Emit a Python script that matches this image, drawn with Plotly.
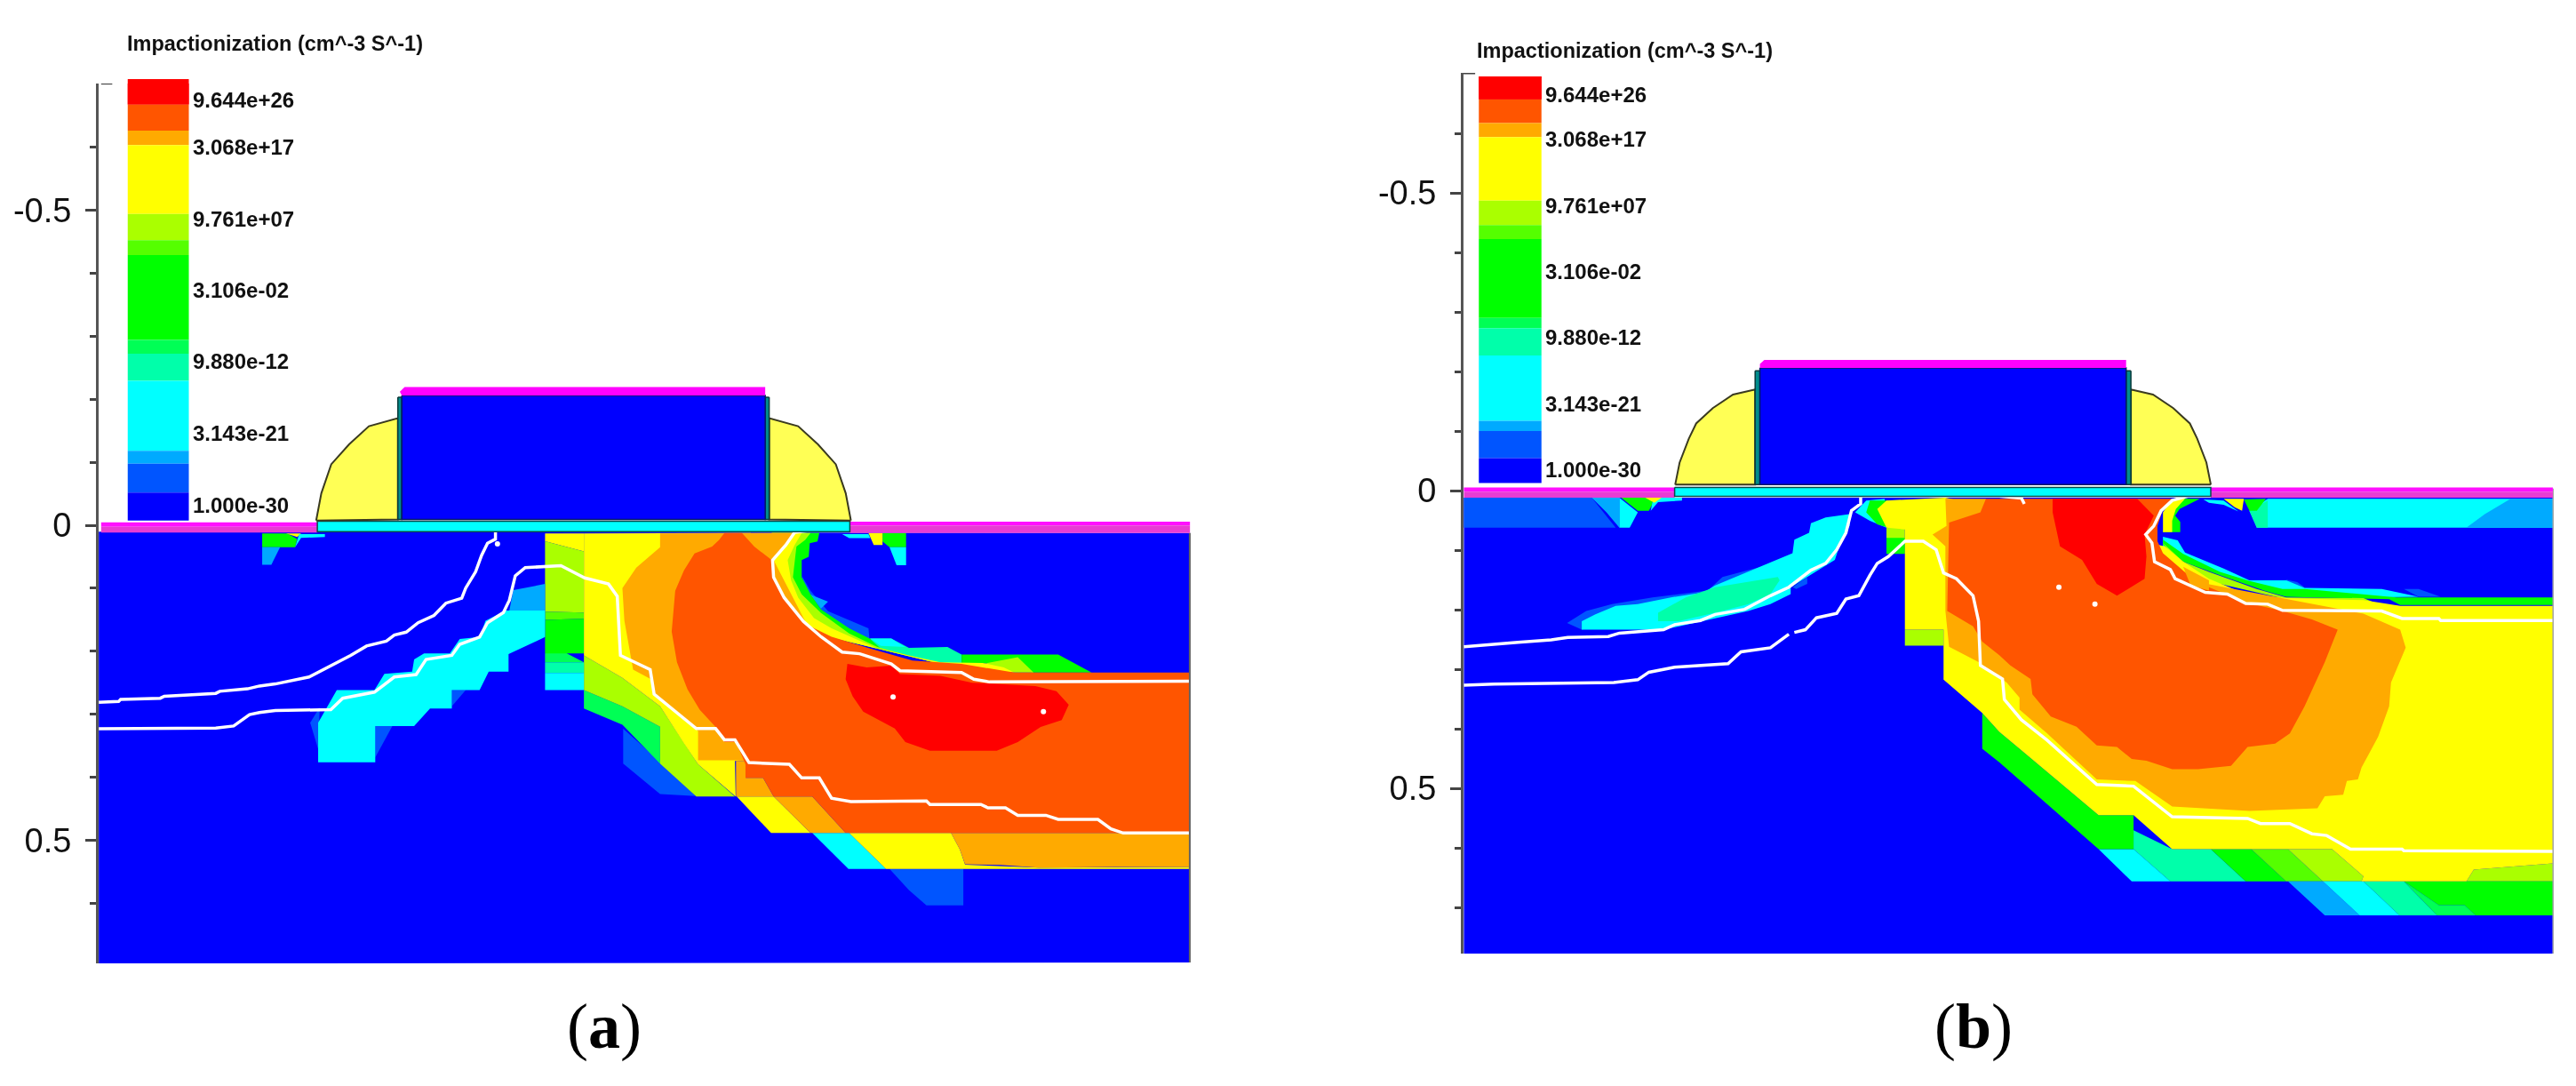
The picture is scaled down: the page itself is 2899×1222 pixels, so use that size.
import plotly.graph_objects as go

# ---------- colour levels of the contour scale (top to bottom) ----------
LEVELS = ["#ff0000", "#ff5500", "#ffaa00", "#ffff00", "#aaff00", "#55ff00", "#00ff00",
          "#00ff55", "#00ffaa", "#00ffff", "#00aaff", "#0055ff", "#0000ff"]
RED, ORED, ORANGE, YELLOW, YG, LG, GREEN, SG, TEAL, CYAN, SKY, MID, BLUE = LEVELS
LEGEND_TITLE = "Impactionization (cm^-3 S^-1)"
LEGEND_LABELS = ["9.644e+26", "3.068e+17", "9.761e+07", "3.106e-02", "9.880e-12", "3.143e-21", "1.000e-30"]
MAJOR_TICKS = [-0.5, 0, 0.5]
MAJOR_TEXT = ["-0.5", "0", "0.5"]
A_MINOR = [-0.6, -0.4, -0.3, -0.2, -0.1, 0.1, 0.2, 0.3, 0.4, 0.6]
B_MINOR = [-0.6, -0.4, -0.3, -0.2, -0.1, 0.1, 0.2, 0.3, 0.4, 0.6, 0.7]

# ---------- digitiser frames: x0, y0, sx, sy, left, zero, units-per-um ----------
FRAMES = {
    "A1": (0, 0, 2.24, 2.45, 111, 591, 709),
    "A2": (100, 400, 2.24, 2.178, 111, 591, 709),
    "A3": (750, 550, 2.529, 2.613, 111, 591, 709),
    "B4": (1600, 0, 2.412, 2.613, 1647, 552, 670),
    "B5": (1640, 500, 2.412, 2.613, 1647, 552, 670),
    "B6": (2250, 500, 2.416, 2.613, 1647, 552, 670),
}

# ---------- legend readings ----------
a_legend_edges = [218, 288, 360, 400, 590, 662, 703, 937, 975, 1050, 1243, 1278, 1358, 1435]
a_legend_x = [322, 476]
a_label_rows = [275, 405, 603, 800, 997, 1195, 1392]
b_legend_edges = [225, 292, 362, 403, 590, 662, 703, 935, 965, 1045, 1237, 1267, 1347, 1420]
b_legend_x = [155, 325]
b_label_rows = [279, 409, 604, 797, 992, 1187, 1380]

# ---------- panel (a) digitised contour outlines ----------
a_silicon = [("A2", [(25, 432)]), ("A3", [(1490, 130), (1490, 1393)]), ("A2", [(25, 1490)])]
a_low_mid1 = [("A2", [(1347, 915), (1440, 995), (1530, 1080), (1440, 1075), (1347, 1000)])]
a_low_mid2 = [("A3", [(635, 1118), (845, 1118), (845, 1225), (740, 1225), (690, 1180)])]
a_low_cyan = [("A3", [(415, 1012), (520, 1012), (625, 1118), (518, 1118)])]
a_low_yellow = [("A3", [(520, 1012), (810, 1012), (835, 1060), (850, 1105), (1060, 1114), (1490, 1112), (1490, 1118), (625, 1118)])]
a_low_orange = [("A3", [(810, 1012), (1490, 1012), (1490, 1112), (1275, 1112), (1060, 1114), (950, 1106), (850, 1104), (835, 1060)])]
a_green_band = [("A2", [(1248, 820), (1345, 860), (1440, 910), (1440, 1000), (1345, 905), (1248, 865)])]
a_yg_band = [("A2", [(1248, 735), (1345, 790), (1440, 860), (1500, 950)]), ("A3", [(90, 810), (195, 905), (85, 905)]),
             ("A2", [(1440, 1000), (1440, 910), (1345, 860), (1248, 820)])]
a_col_yellow = [("A2", [(1150, 436), (1248, 436), (1248, 480), (1150, 455)])]
a_col_yg = [("A2", [(1150, 455), (1248, 480), (1248, 630), (1150, 628)])]
a_col_lg = [("A2", [(1150, 628), (1248, 630), (1248, 645), (1150, 648)])]
a_col_green = [("A2", [(1150, 648), (1248, 645), (1248, 730), (1205, 730), (1205, 750), (1150, 730)])]
a_col_sg = [("A2", [(1150, 730), (1205, 730), (1248, 752), (1150, 752)])]
a_col_teal = [("A2", [(1150, 752), (1248, 752), (1248, 778), (1150, 778)])]
a_col_cyan = [("A2", [(1150, 778), (1248, 778), (1248, 820), (1150, 820)])]
a_block_yellow = [("A3", [(200, 905), (305, 905), (410, 1012), (298, 1012)])]
a_block_orange1 = [("A3", [(198, 800), (226, 800), (226, 850), (275, 850), (305, 905), (198, 905)])]
a_block_orange2 = [("A3", [(305, 905), (415, 905), (510, 1012), (410, 1012)])]
a_hook_mid = [("A3", [(385, 255), (410, 300), (460, 360), (575, 410), (578, 445), (520, 420), (440, 355), (400, 310)])]
a_hook_sky = [("A3", [(408, 310), (460, 332), (440, 352)])]
a_hook_teal = [("A3", [(578, 440), (640, 440), (690, 468), (800, 465), (840, 487), (840, 515), (760, 510), (690, 490), (600, 470)])]
a_hook_cyan = [("A3", [(580, 440), (640, 440), (680, 465), (610, 462)])]
a_tail_green = [("A3", [(840, 487), (1115, 487), (1210, 540), (1040, 540), (1000, 510), (840, 515)])]
a_tail_yg = [("A3", [(900, 515), (1000, 495), (1045, 540), (990, 540)])]
a_hook_green = [("A3", [(435, 130), (430, 155), (408, 160), (405, 200), (385, 210), (385, 260), (410, 310), (440, 355), (520, 410),
                        (578, 440), (610, 470), (840, 530), (400, 420), (280, 250), (300, 130)])]
a_hook_yg = [("A3", [(410, 130), (395, 150), (370, 170), (360, 260), (385, 310), (440, 365), (520, 425), (600, 465), (690, 490),
                     (840, 530), (400, 420), (280, 250), (300, 130)])]
a_hook_yellow = [("A3", [(385, 130), (365, 165), (345, 210), (355, 270), (375, 320), (420, 380), (470, 410), (600, 470), (690, 490),
                         (780, 510), (900, 512), (960, 525), (990, 540), (840, 530), (400, 420), (280, 250), (300, 130)])]
a_yellow_main = [("A2", [(1248, 436)]), ("A3", [(240, 130), (225, 800), (195, 800), (197, 905), (90, 810)]),
                 ("A2", [(1500, 950), (1440, 860), (1345, 790), (1248, 735)])]
a_orange_main = [("A2", [(1440, 436), (1440, 470), (1380, 520), (1345, 570), (1350, 650), (1372, 770), (1420, 795), (1425, 830), (1530, 915)]),
                 ("A3", [(90, 712), (90, 798), (195, 798), (225, 800), (400, 400), (305, 210), (360, 130)])]
a_ored_main = [("A3", [(165, 130), (215, 130), (250, 170), (300, 210), (310, 270), (340, 330), (400, 400), (470, 435), (580, 470), (700, 505),
                       (840, 515), (990, 540), (1490, 540), (1490, 1012), (510, 1012), (415, 905), (305, 905), (275, 850), (225, 850), (225, 810),
                       (198, 745), (165, 745), (140, 700), (95, 650), (60, 590), (30, 510), (15, 420), (25, 300), (50, 240), (80, 190), (130, 170), (150, 150)])]
a_red = [("A3", [(515, 515), (570, 525), (640, 520), (665, 545), (780, 550), (870, 570), (1050, 580), (1110, 595), (1145, 635), (1125, 680),
                 (1065, 700), (1000, 745), (940, 770), (750, 770), (680, 745), (650, 705), (560, 655), (530, 610), (510, 560)])]
a_right_green = [("A3", [(615, 130), (682, 130), (682, 172), (635, 172), (615, 155)])]
a_right_cyan = [("A3", [(635, 172), (682, 172), (682, 225), (655, 225)])]
a_right_yellow = [("A3", [(575, 130), (615, 130), (615, 165), (590, 165)])]
a_right_thin = [("A3", [(500, 133), (575, 133), (580, 145), (520, 145)])]
a_left_green = [("A2", [(437, 436), (500, 436), (525, 450), (520, 470), (437, 470)])]
a_left_yellow = [("A2", [(497, 436), (535, 436), (525, 445)])]
a_left_thin = [("A2", [(530, 438), (595, 438), (595, 445), (535, 447), (520, 470)])]
a_left_sky = [("A2", [(437, 470), (482, 470), (460, 513), (437, 513)])]
a_blob_cyan = [("A2", [(578, 900), (625, 820), (720, 820), (745, 780), (815, 775), (820, 745), (845, 730), (910, 730), (935, 695), (985, 690),
                       (1000, 650), (1050, 625), (1150, 625), (1150, 690), (1058, 732), (1058, 775), (1008, 775), (985, 820), (915, 820),
                       (915, 865), (860, 865), (820, 908), (722, 908), (722, 997), (578, 997)])]
a_blob_mid1 = [("A2", [(558, 900), (582, 862), (578, 965)])]
a_blob_mid2 = [("A2", [(722, 908), (765, 908), (722, 985)])]
a_blob_mid3 = [("A2", [(915, 820), (950, 820), (915, 860)])]
a_blob_sky = [("A2", [(1070, 575), (1150, 560), (1150, 625), (1060, 625)])]

A_LAYERS = [
    (BLUE, a_silicon), (MID, a_low_mid1), (MID, a_low_mid2), (CYAN, a_low_cyan), (YELLOW, a_low_yellow), (ORANGE, a_low_orange),
    (SG, a_green_band), (YG, a_yg_band), (YELLOW, a_col_yellow), (YG, a_col_yg), (LG, a_col_lg), (GREEN, a_col_green), (SG, a_col_sg),
    (TEAL, a_col_teal), (CYAN, a_col_cyan), (YELLOW, a_block_yellow), (ORANGE, a_block_orange2),
    (MID, a_hook_mid), (SKY, a_hook_sky), (TEAL, a_hook_teal), (CYAN, a_hook_cyan), (GREEN, a_tail_green), (YG, a_tail_yg),
    (GREEN, a_hook_green), (YG, a_hook_yg), (YELLOW, a_hook_yellow), (YELLOW, a_yellow_main), (ORANGE, a_block_orange1), (ORANGE, a_orange_main), (ORED, a_ored_main),
    (RED, a_red), (GREEN, a_right_green), (CYAN, a_right_cyan), (YELLOW, a_right_yellow), (CYAN, a_right_thin), (GREEN, a_left_green),
    (YELLOW, a_left_yellow), (CYAN, a_left_thin), (SKY, a_left_sky), (MID, a_blob_mid1), (MID, a_blob_mid2), (MID, a_blob_mid3),
    (CYAN, a_blob_cyan), (SKY, a_blob_sky),
]
a_white_1 = [("A2", [(25, 850), (75, 848), (80, 843), (180, 840), (190, 835), (235, 832), (320, 828), (330, 823), (400, 817), (430, 810), (470, 805),
                     (555, 788), (600, 765), (660, 735), (700, 712), (750, 700), (770, 685), (800, 678), (830, 655), (870, 637), (900, 607), (940, 595),
                     (950, 570), (975, 530), (990, 490), (1005, 460), (1025, 450), (1025, 433)])]
a_white_2 = [("A2", [(25, 915), (320, 913), (365, 908), (405, 880), (430, 875), (470, 870), (610, 868), (640, 840), (720, 825), (770, 788), (825, 782),
                     (850, 745), (915, 735), (935, 708), (985, 690), (1005, 655), (1045, 630), (1060, 600), (1075, 540), (1100, 520), (1190, 515),
                     (1250, 545), (1310, 560), (1332, 590), (1340, 735), (1415, 770), (1425, 830), (1530, 915)]),
             ("A3", [(85, 705), (140, 705), (165, 738), (195, 738), (235, 805), (350, 810), (385, 850), (435, 850), (470, 910), (525, 920), (740, 918),
                     (750, 928), (895, 928), (915, 938), (965, 938), (1000, 960), (1080, 960), (1115, 972), (1228, 972), (1265, 1000), (1300, 1012), (1490, 1012)])]
a_white_3 = [("A3", [(410, 122), (365, 128), (340, 165), (302, 210), (305, 260), (335, 320), (390, 390), (440, 435), (500, 480), (550, 485), (640, 515),
                     (665, 535), (840, 540), (875, 560), (920, 568), (1490, 566)])]
A_WHITE = [a_white_1, a_white_2, a_white_3]
a_dots = [("A3", [(645, 612), (1073, 655)]), ("A2", [(1030, 462)])]

# device structure (a)
a_spacer = [("A1", [(797, 1435), (810, 1360), (835, 1280), (880, 1225), (930, 1175), (1003, 1153), (1003, 1432)])]
a_gate_centre = [("A1", [(1471, 0)])]
a_gate = [("A1", [(1013, 1090), (1013, 1432), (1929, 1432), (1929, 1090)])]
a_gate_poly = [("A1", [(1008, 1080), (1020, 1067), (1929, 1067), (1929, 1090), (1013, 1090)])]
a_gate_gap_l = [("A1", [(1003, 1095), (1013, 1095), (1013, 1432), (1003, 1432)])]
a_oxide = [("A1", [(800, 1437)]), ("A3", [(522, 95), (522, 126)]), ("A1", [(800, 1466)])]
a_strip_l_top = [("A1", [(255, 1440), (800, 1440), (800, 1452), (255, 1452)])]
a_strip_l_low = [("A1", [(255, 1452), (800, 1452), (800, 1468), (255, 1468)])]
a_strip_r_top = [("A3", [(522, 97), (1490, 97), (1490, 108), (522, 108)])]
a_strip_r_low = [("A3", [(522, 108), (1490, 108), (1490, 130), (522, 130)])]
a_edge = [("A3", [(1490, 130), (1490, 1393)])]
a_cap = [("A1", [(255, 230), (283, 230)])]

# ---------- panel (b) digitised contour outlines ----------
b_silicon = [("B5", [(18, 157)]), ("B6", [(1505, 157), (1505, 1498)]), ("B5", [(18, 1498)])]
b_strip_mid = [("B5", [(18, 157), (365, 157), (430, 245), (18, 245)])]
b_strip_sky = [("B5", [(365, 157), (440, 157), (440, 245), (405, 200)])]
b_strip_cyan = [("B5", [(440, 157), (490, 200), (468, 245), (440, 245)])]
b_strip_green = [("B5", [(445, 157), (530, 157), (530, 175), (520, 195), (490, 195)])]
b_strip_yellow = [("B5", [(510, 157), (555, 157), (535, 172)])]
b_strip_thin = [("B5", [(530, 170), (540, 157), (610, 157), (610, 165), (545, 170), (525, 195)])]
b_blob_mid = [("B5", [(298, 525), (350, 490), (420, 470), (530, 450), (680, 430), (720, 390), (790, 370), (900, 340), (900, 420), (338, 545)])]
b_blob_cyan = [("B5", [(338, 520), (375, 500), (430, 475), (490, 470), (580, 450), (670, 435), (700, 415), (800, 370), (910, 320), (915, 280), (955, 260),
                       (960, 232), (1000, 215), (1065, 205), (1065, 240), (1040, 290), (1025, 340), (980, 370), (905, 420), (905, 440), (850, 470),
                       (790, 490), (660, 520), (560, 545), (338, 545)])]
b_blob_teal = [("B5", [(545, 495), (620, 450), (700, 420), (870, 390), (875, 400), (850, 440), (790, 470), (720, 490), (600, 520), (545, 520)])]
b_blob_small = [("B5", [(910, 420), (950, 390), (950, 410), (920, 425)])]
b_top_cyan = [("B5", [(1080, 200), (1110, 165), (1160, 160), (1165, 245), (1120, 225)])]
b_top_green = [("B5", [(1110, 200), (1120, 165), (1170, 165), (1170, 245), (1140, 235)])]
b_col_yg = [("B5", [(1165, 245), (1215, 245), (1215, 285), (1165, 285)])]
b_col_green = [("B5", [(1165, 275), (1215, 275), (1215, 322), (1165, 322)])]
b_col_low = [("B5", [(1215, 545), (1320, 545), (1320, 592), (1215, 592)])]
b_row1_cyan = [("B6", [(270, 1190), (365, 1190), (465, 1285), (360, 1285)])]
b_row1_teal = [("B6", [(365, 1135), (470, 1190), (575, 1190), (670, 1285), (465, 1285), (365, 1190)])]
b_row1_green = [("B6", [(575, 1190), (685, 1190), (780, 1285), (670, 1285)])]
b_row1_lg = [("B6", [(685, 1190), (785, 1190), (880, 1285), (780, 1285)])]
b_row1_yg = [("B6", [(785, 1190), (905, 1190), (990, 1270), (985, 1285), (880, 1285)])]
b_row1_yg2 = [("B6", [(1290, 1250), (1505, 1232), (1505, 1285), (1270, 1285)])]
b_row0_green = [("B5", [(1425, 790)]), ("B6", [(0, 845), (270, 1090), (365, 1090), (365, 1190), (270, 1190), (0, 935)]), ("B5", [(1425, 895)])]
b_row2_sky = [("B6", [(785, 1285), (880, 1285), (980, 1385), (885, 1385)])]
b_row2_cyan = [("B6", [(880, 1285), (990, 1285), (1088, 1385), (980, 1385)])]
b_row2_teal = [("B6", [(990, 1285), (1100, 1285), (1190, 1385), (1088, 1385)])]
b_row2_green = [("B6", [(1100, 1285), (1505, 1285), (1505, 1385), (1295, 1385), (1265, 1355), (1195, 1355)])]
b_row2_sg = [("B6", [(1100, 1285), (1195, 1355), (1265, 1355), (1295, 1385), (1190, 1385)])]
b_cap_cyan = [("B6", [(730, 160), (1505, 160), (1505, 245), (700, 245), (680, 195)])]
b_cap_sky = [("B6", [(1390, 160), (1505, 160), (1505, 245), (1270, 245), (1320, 205)])]
b_cap_teal = [("B6", [(680, 195), (730, 165), (730, 245), (700, 245)])]
b_cap_green = [("B6", [(665, 162), (725, 160), (700, 195), (680, 195)])]
b_cap_yellow = [("B6", [(610, 160), (665, 160), (660, 195), (640, 185)])]
b_cap_thin = [("B6", [(555, 162), (610, 165), (650, 197), (610, 178), (570, 172)])]
b_up_green = [("B6", [(470, 160), (545, 160), (490, 190), (478, 210), (492, 228), (492, 258), (445, 258)])]
b_up_yellow = [("B6", [(470, 160), (505, 160), (480, 190), (470, 225), (470, 258), (445, 258), (445, 200)])]
b_low_mid1 = [("B6", [(780, 398), (810, 405), (830, 420), (780, 420)])]
b_low_mid2 = [("B6", [(1100, 425), (1140, 425), (1200, 448), (1140, 448)])]
b_low_cyan = [("B6", [(445, 272), (485, 282), (505, 318), (610, 365), (680, 400), (780, 400), (830, 422), (1040, 425), (1140, 448), (1000, 450), (800, 445), (600, 380), (445, 300)])]
b_low_green = [("B6", [(445, 280), (500, 322), (600, 375), (680, 402), (770, 425), (830, 425), (1080, 450), (1505, 450), (1505, 472), (1090, 472),
                       (1060, 455), (780, 448), (720, 430), (600, 385), (500, 345), (445, 295)])]
b_low_yg = [("B6", [(445, 290), (500, 345), (570, 375), (700, 425), (780, 450), (990, 452), (1030, 470), (1090, 475), (780, 455), (600, 410), (500, 370)])]
b_yellow_main = [("B6", [(500, 345), (570, 395), (670, 440), (780, 452), (990, 458), (1090, 475), (1505, 475), (1505, 1232), (1290, 1250), (1270, 1285),
                         (985, 1285), (990, 1270), (905, 1190), (470, 1190), (365, 1090), (270, 1090), (0, 845)]),
                 ("B5", [(1425, 790), (1320, 692), (1320, 545), (1215, 545), (1215, 250), (1165, 245), (1140, 190), (1165, 165), (1325, 157)]),
                 ("B6", [(450, 300)])]
b_orange_main = [("B5", [(1325, 160), (1435, 160), (1500, 300)]),
                 ("B6", [(990, 498), (1090, 545), (1105, 598), (1065, 700), (1060, 770), (1030, 860), (985, 950), (975, 985), (945, 990), (935, 1030), (885, 1035),
                         (865, 1070), (680, 1078), (470, 1065), (370, 990), (265, 985), (130, 850), (55, 780), (55, 745), (20, 700)]),
                 ("B5", [(1415, 640), (1335, 595), (1325, 490), (1325, 300), (1290, 265), (1328, 240)])]
b_ored_main = [("B5", [(1335, 230), (1420, 200), (1435, 160)]),
               ("B6", [(470, 160), (445, 190), (430, 240), (430, 285), (445, 320), (520, 390), (570, 420), (670, 465), (770, 490), (850, 515), (920, 545), (885, 640),
                       (830, 770), (790, 850), (750, 880), (675, 890), (630, 945), (540, 955), (470, 955), (400, 930), (360, 925), (320, 890), (265, 885), (210, 830),
                       (140, 800), (90, 735), (85, 690), (30, 650), (0, 620)]),
               ("B5", [(1425, 580), (1400, 535), (1330, 490)])]
b_hook_orange = [("B6", [(500, 360), (570, 400), (570, 430), (520, 415)])]
b_red = [("B6", [(145, 160), (375, 160), (420, 210), (395, 265), (400, 330), (395, 395), (320, 445), (265, 410), (225, 340), (165, 300), (145, 200)])]

B_LAYERS = [
    (BLUE, b_silicon), (MID, b_strip_mid), (SKY, b_strip_sky), (CYAN, b_strip_cyan), (GREEN, b_strip_green), (CYAN, b_strip_thin), (YELLOW, b_strip_yellow),
    (MID, b_blob_mid), (CYAN, b_blob_cyan), (TEAL, b_blob_teal), (MID, b_blob_small), (CYAN, b_top_cyan), (GREEN, b_top_green), (YG, b_col_yg), (GREEN, b_col_green),
    (YG, b_col_low), (CYAN, b_row1_cyan), (TEAL, b_row1_teal), (GREEN, b_row1_green), (LG, b_row1_lg), (YG, b_row1_yg), (YG, b_row1_yg2), (GREEN, b_row0_green),
    (SKY, b_row2_sky), (CYAN, b_row2_cyan), (TEAL, b_row2_teal), (GREEN, b_row2_green), (SG, b_row2_sg), (CYAN, b_cap_cyan), (SKY, b_cap_sky), (TEAL, b_cap_teal),
    (GREEN, b_cap_green), (CYAN, b_cap_thin), (YELLOW, b_cap_yellow), (GREEN, b_up_green), (YELLOW, b_up_yellow), (MID, b_low_mid1), (MID, b_low_mid2), (CYAN, b_low_cyan),
    (GREEN, b_low_green), (YG, b_low_yg), (YELLOW, b_yellow_main), (ORANGE, b_orange_main), (ORED, b_ored_main), (ORANGE, b_hook_orange), (RED, b_red),
]
b_white_1 = [("B5", [(18, 595), (70, 590), (165, 582), (255, 575), (300, 568), (410, 565), (440, 555), (560, 545), (590, 530), (660, 518), (700, 500), (780, 485), (850, 445),
                     (900, 420), (960, 370), (1000, 350), (1030, 310), (1055, 260), (1070, 195), (1095, 175), (1095, 157)])]
b_white_2a = [("B5", [(18, 708), (100, 705), (425, 700), (490, 692), (520, 670), (590, 655), (735, 645), (770, 610), (850, 598), (900, 558)])]
b_white_2b = [("B5", [(915, 553), (945, 545), (975, 510), (1030, 497), (1055, 455), (1090, 445), (1120, 385), (1140, 350), (1170, 330), (1215, 285), (1265, 285), (1300, 310),
                      (1320, 378), (1355, 395), (1400, 445), (1415, 520), (1420, 650), (1480, 690), (1485, 750)]),
              ("B6", [(60, 810), (130, 870), (265, 1000), (365, 1005), (470, 1095), (675, 1100), (710, 1115), (790, 1115), (850, 1145), (890, 1150), (955, 1190), (1095, 1190),
                      (1100, 1195), (1505, 1197)])]
b_white_3 = [("B6", [(515, 152), (470, 165), (440, 195), (420, 240), (398, 265), (415, 290), (422, 345), (465, 368), (478, 395), (560, 435), (620, 440), (670, 468), (730, 470),
                     (770, 488), (1040, 490), (1095, 512), (1195, 512), (1200, 518), (1505, 518)])]
b_white_4 = [("B6", [(0, 152), (60, 158), (68, 175)])]
B_WHITE = [b_white_1, b_white_2a, b_white_2b, b_white_3, b_white_4]
b_dots = [("B6", [(162, 420), (260, 470)])]

# device structure (b)
b_spacer = [("B4", [(688, 1425), (700, 1360), (725, 1290), (745, 1245), (790, 1200), (845, 1160), (905, 1145), (905, 1425)])]
b_gate_centre = [("B4", [(1415, 0)])]
b_gate = [("B4", [(918, 1082), (918, 1425), (1912, 1425), (1912, 1082)])]
b_gate_poly = [("B4", [(918, 1082), (918, 1070), (930, 1058), (1912, 1058), (1912, 1082)])]
b_gate_gap_l = [("B4", [(905, 1090), (918, 1090), (918, 1425), (905, 1425)])]
b_oxide = [("B5", [(590, 127)]), ("B6", [(575, 127), (575, 153)]), ("B5", [(590, 153)])]
b_strip_l_top = [("B5", [(18, 127), (590, 127), (590, 139), (18, 139)])]
b_strip_l_low = [("B5", [(18, 139), (590, 139), (590, 157), (18, 157)])]
b_strip_r_top = [("B6", [(575, 127), (1505, 127), (1505, 139), (575, 139)])]
b_strip_r_low = [("B6", [(575, 139), (1505, 139), (1505, 157), (575, 157)])]
b_edge = [("B6", [(1507, 130), (1507, 1498)])]
b_cap = [("B4", [(113, 215), (145, 215)])]


def cal(segments):
    xs, ys = [], []
    for frame, pts in segments:
        x0, y0, sx, sy, left, zero, unit = FRAMES[frame]
        for zx, zy in pts:
            xs.append((x0 + zx / sx - left) / unit)
            ys.append((y0 + zy / sy - zero) / unit)
    return xs, ys


def paper_xy(frame, pt):
    x0, y0, sx, sy = FRAMES[frame][:4]
    return (x0 + pt[0] / sx) / 2899, 1 - (y0 + pt[1] / sy) / 1222


fig = go.Figure()


def fill(seg, color, ax, edge=None, width=0, flip=None):
    x, y = cal(seg)
    if flip is not None:
        x = [2 * flip - v for v in x]
    fig.add_trace(go.Scatter(x=x + x[:1], y=y + y[:1], mode="lines", fill="toself", fillcolor=color,
                             line=dict(color=edge or color, width=width), hoverinfo="skip", xaxis=ax[0], yaxis=ax[1]))


def stroke(seg, color, width, ax):
    x, y = cal(seg)
    fig.add_trace(go.Scatter(x=x, y=y, mode="lines", line=dict(color=color, width=width, shape="linear"),
                             hoverinfo="skip", xaxis=ax[0], yaxis=ax[1]))


def panel(ax, layers, whites, dots, spacer, centre, gate, poly, gap, oxide, s_lt, s_ll, s_rt, s_rl, edge, edge_col, cap):
    for col, seg in layers:
        fill(seg, col, ax)
    for w in whites:
        stroke(w, "#ffffff", 3.5, ax)
    dx, dy = cal(dots)
    fig.add_trace(go.Scatter(x=dx, y=dy, mode="markers", marker=dict(color="#ffffff", size=6), hoverinfo="skip", xaxis=ax[0], yaxis=ax[1]))
    stroke(edge, edge_col, 2.5, ax)
    fill(s_lt, "#ff10ff", ax); fill(s_ll, "#e83cd4", ax); fill(s_rt, "#ff10ff", ax); fill(s_rl, "#e83cd4", ax)
    fill(oxide, CYAN, ax, edge="#0a4a4a", width=1.5)
    c = cal(centre)[0][0]
    fill(spacer, "#ffff55", ax, edge="#3a3a20", width=2)
    fill(spacer, "#ffff55", ax, edge="#3a3a20", width=2, flip=c)
    fill(gap, "#008c8c", ax, edge="#0a3a3a", width=1.5)
    fill(gap, "#008c8c", ax, edge="#0a3a3a", width=1.5, flip=c)
    fill(gate, BLUE, ax, edge="#001a66", width=1.5)
    fill(poly, "#ff00ff", ax)
    stroke(cap, "#444444", 2.5, ax)


A_AX, B_AX = ("x", "y"), ("x2", "y2")
panel(A_AX, A_LAYERS, A_WHITE, a_dots, a_spacer, a_gate_centre, a_gate, a_gate_poly, a_gate_gap_l, a_oxide,
      a_strip_l_top, a_strip_l_low, a_strip_r_top, a_strip_r_low, a_edge, "#666666", a_cap)
panel(B_AX, B_LAYERS, B_WHITE, b_dots, b_spacer, b_gate_centre, b_gate, b_gate_poly, b_gate_gap_l, b_oxide,
      b_strip_l_top, b_strip_l_low, b_strip_r_top, b_strip_r_low, b_edge, "#a8a8a8", b_cap)

annotations = []
shapes = []


def legend(ax, frame, edges, xr, rows, title_xy):
    for i, col in enumerate(LEVELS):
        fill([(frame, [(xr[0], edges[i]), (xr[1], edges[i]), (xr[1], edges[i + 1]), (xr[0], edges[i + 1])])], col, ax)
    # top of the first band rises above the axis end, outside the plot clip
    p0, q0 = paper_xy(frame, (xr[0], edges[0]))
    p1, q1 = paper_xy(frame, (xr[1], edges[1]))
    shapes.append(dict(type="rect", xref="paper", yref="paper", x0=p0, x1=p1, y0=q1, y1=q0, fillcolor=LEVELS[0], line=dict(width=0), layer="above"))
    for lab, row in zip(LEGEND_LABELS, rows):
        px, py = paper_xy(frame, (xr[1] + 10, row))
        annotations.append(dict(x=px, y=py, xref="paper", yref="paper", text="<b>%s</b>" % lab, showarrow=False, xanchor="left", yanchor="middle",
                                font=dict(family="Liberation Sans", size=24, color="#111111"), borderpad=0, borderwidth=0))
    px, py = paper_xy(frame, title_xy)
    annotations.append(dict(x=px, y=py, xref="paper", yref="paper", text="<b>%s</b>" % LEGEND_TITLE, showarrow=False, xanchor="left", yanchor="middle",
                            font=dict(family="Liberation Sans", size=23.5, color="#111111"), borderpad=0))


legend(A_AX, "A1", a_legend_edges, a_legend_x, a_label_rows, (318, 120))
legend(B_AX, "B4", b_legend_edges, b_legend_x, b_label_rows, (148, 150))

for txt, px in (("(<b>a</b>)", 680), ("(<b>b</b>)", 2220.5)):
    annotations.append(dict(x=px / 2899, y=1 - 1155 / 1222, xref="paper", yref="paper", text=txt, showarrow=False, xanchor="center", yanchor="middle",
                            font=dict(family="Liberation Serif", size=72, color="#000000")))


def yaxis_cfg(rng, dom, minor):
    return dict(range=rng, domain=dom, tickmode="array", tickvals=MAJOR_TICKS, ticktext=MAJOR_TEXT, ticks="outside", ticklen=12, tickwidth=2.5, tickcolor="#444444",
                tickfont=dict(family="Liberation Sans", size=38, color="#111111"), showline=True, linecolor="#555555", linewidth=3, showgrid=False, zeroline=False,
                ticklabelstandoff=8, minor=dict(tickmode="array", tickvals=minor, ticks="outside", ticklen=7.5, tickwidth=2.5, tickcolor="#444444", showgrid=False))


fig.update_layout(
    width=2899, height=1222, margin=dict(l=0, r=0, t=0, b=0), paper_bgcolor="#ffffff", plot_bgcolor="rgba(0,0,0,0)", showlegend=False, annotations=annotations, shapes=shapes,
    xaxis=dict(domain=[111 / 2899, 1340 / 2899], range=[0, 1229 / 709], visible=False, anchor="y"),
    yaxis=yaxis_cfg([(1084 - 591) / 709, (94 - 591) / 709], [1 - 1084 / 1222, 1 - 94 / 1222], A_MINOR) | dict(anchor="x"),
    xaxis2=dict(domain=[1647 / 2899, 2874 / 2899], range=[0, 1227 / 670], visible=False, anchor="y2"),
    yaxis2=yaxis_cfg([(1073 - 552) / 670, (82 - 552) / 670], [1 - 1073 / 1222, 1 - 82 / 1222], B_MINOR) | dict(anchor="x2"),
)

fig.write_html("out.html", config=dict(displayModeBar=False),
               post_script="document.body.style.margin='0';document.body.style.overflow='hidden';"
                           "document.querySelectorAll('.cartesianlayer, .annotation').forEach(function(e){"
                           "var t=e.textContent||'';if(t.indexOf('(a')===0||t.indexOf('(b')===0){return;}"
                           "e.style.filter='blur(0.7px)';});")
